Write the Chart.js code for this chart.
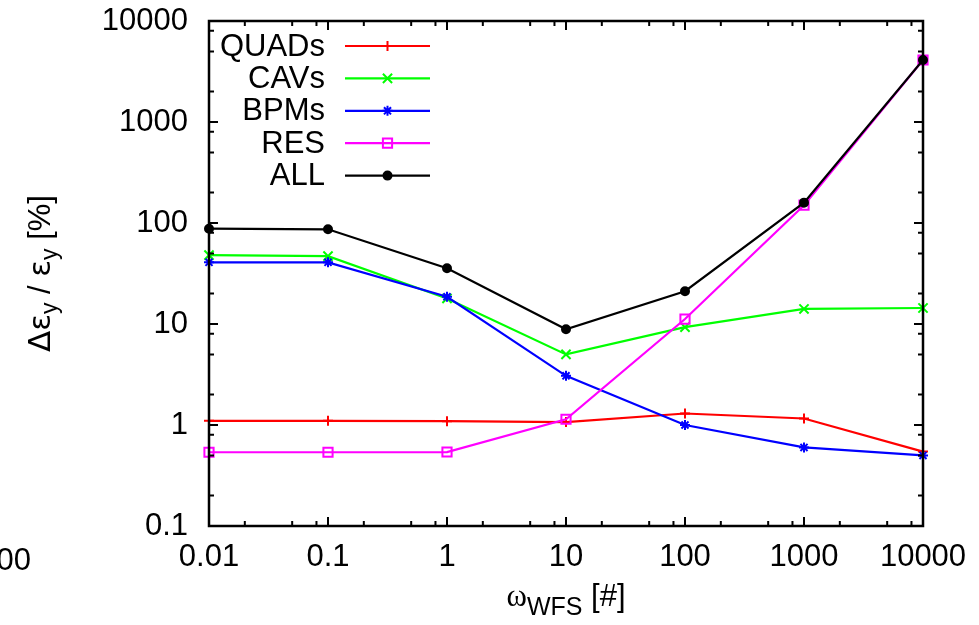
<!DOCTYPE html>
<html><head><meta charset="utf-8">
<script src="https://cdn.jsdelivr.net/npm/chart.js@4"></script>
<style>html,body{margin:0;padding:0;background:#fff}#wrap{width:979px;height:625px;position:relative}</style>
</head><body><div id="wrap"><canvas id="c" width="979" height="625"></canvas></div>
<script>
// ---- data ----
const xValues = [0.01, 0.1, 1, 10, 100, 1000, 10000];
const xTicks  = [0.01, 0.1, 1, 10, 100, 1000, 10000];
const yTicks  = [0.1, 1, 10, 100, 1000, 10000];
const seriesNames = ['QUADs', 'CAVs', 'BPMs', 'RES', 'ALL'];
const quads = [1.10, 1.10, 1.09, 1.07, 1.30, 1.16, 0.545];
const cavs  = [48.1, 47.0, 17.9, 5.0, 9.3, 14.1, 14.4];
const bpms  = [40.8, 40.8, 18.6, 3.07, 1.0, 0.60, 0.50];
const res   = [0.537, 0.537, 0.54, 1.14, 11.2, 150, 4110];
const all   = [87.8, 86.6, 35.6, 8.87, 21.1, 159, 4110];
const leftoverLabel = '00';

const FONT = '"Liberation Sans", Arial, Helvetica, sans-serif';
const FS = 31;

const styles = [
  {color:'#ff0000', pointStyle:'cross',    radius:5,   fill:'#ff0000'},
  {color:'#00ff00', pointStyle:'crossRot', radius:6.5, fill:'#00ff00'},
  {color:'#0000ff', pointStyle:'star',     radius:5,   fill:'#0000ff'},
  {color:'#ff00ff', pointStyle:'rect',     radius:6.5, fill:'rgba(0,0,0,0)'},
  {color:'#000000', pointStyle:'circle',   radius:4,   fill:'#000000'}
];
const seriesValues = [quads, cavs, bpms, res, all];

const datasets = seriesNames.map((name, i) => ({
  label: name,
  data: xValues.map((x, j) => ({x: x, y: seriesValues[i][j]})),
  showLine: true,
  borderColor: styles[i].color,
  backgroundColor: styles[i].fill,
  borderWidth: 2.2,
  pointStyle: styles[i].pointStyle,
  pointRadius: styles[i].radius,
  pointBorderWidth: 2,
  pointBorderColor: styles[i].color,
  pointBackgroundColor: styles[i].fill,
  order: seriesNames.length - i,
  clip: false
}));

const framePlugin = {
  id: 'frame',
  afterDatasetsDraw(chart) {
    const ctx = chart.ctx, a = chart.chartArea;
    const xs = chart.scales.x, ys = chart.scales.y;
    ctx.save();
    ctx.strokeStyle = '#000';
    ctx.lineWidth = 2;
    const minorMult = [2, 5, 8];
    const MAJ = 9, MIN = 5;
    ctx.beginPath();
    xTicks.forEach((v, k) => {
      const px = xs.getPixelForValue(v);
      ctx.moveTo(px, a.bottom); ctx.lineTo(px, a.bottom - MAJ);
      ctx.moveTo(px, a.top); ctx.lineTo(px, a.top + MAJ);
      if (k < xTicks.length - 1) minorMult.forEach(m => {
        const q = xs.getPixelForValue(v * m);
        ctx.moveTo(q, a.bottom); ctx.lineTo(q, a.bottom - MIN);
        ctx.moveTo(q, a.top); ctx.lineTo(q, a.top + MIN);
      });
    });
    yTicks.forEach((v, k) => {
      const py = ys.getPixelForValue(v);
      ctx.moveTo(a.left, py); ctx.lineTo(a.left + MAJ, py);
      ctx.moveTo(a.right, py); ctx.lineTo(a.right - MAJ, py);
      if (k < yTicks.length - 1) minorMult.forEach(m => {
        const q = ys.getPixelForValue(v * m);
        ctx.moveTo(a.left, q); ctx.lineTo(a.left + MIN, q);
        ctx.moveTo(a.right, q); ctx.lineTo(a.right - MIN, q);
      });
    });
    ctx.stroke();
    ctx.lineWidth = 2.5;
    ctx.strokeRect(a.left, a.top, a.right - a.left, a.bottom - a.top);

    // legend (top-left, inside plot)
    ctx.font = FS + 'px ' + FONT;
    ctx.textAlign = 'right';
    ctx.textBaseline = 'middle';
    const lx0 = a.left + 136, lx1 = a.left + 221, tx = a.left + 116;
    chart.data.datasets.forEach((ds, i) => {
      const y = a.top + 25 + i * 32.4;
      ctx.fillStyle = '#000';
      ctx.fillText(ds.label, tx, y + 1);
      ctx.strokeStyle = ds.borderColor;
      ctx.lineWidth = 2.2;
      ctx.beginPath(); ctx.moveTo(lx0, y); ctx.lineTo(lx1, y); ctx.stroke();
      ctx.fillStyle = ds.pointBackgroundColor;
      ctx.strokeStyle = ds.pointBorderColor;
      ctx.lineWidth = 2;
      Chart.helpers.drawPoint(ctx, {pointStyle: ds.pointStyle, radius: ds.pointRadius, rotation: 0, borderWidth: 2}, (lx0 + lx1) / 2, y);
    });

    function drawRich(parts, cx, cy) {
      let w = 0;
      parts.forEach(p => { ctx.font = p.size + 'px ' + (p.font || FONT); p.w = ctx.measureText(p.t).width; w += p.w; });
      let x = cx - w / 2;
      ctx.textAlign = 'left'; ctx.textBaseline = 'alphabetic'; ctx.fillStyle = '#000';
      parts.forEach(p => { ctx.font = p.size + 'px ' + (p.font || FONT); ctx.fillText(p.t, x, cy + (p.dy || 0)); x += p.w; });
    }
    const SUB = 23;
    ctx.save();
    ctx.translate(50, (a.top + a.bottom) / 2);
    ctx.rotate(-Math.PI / 2);
    drawRich([
      {t:'Δε', size:FS, font:'"DejaVu Sans", sans-serif'},
      {t:'y', size:SUB, dy:7},
      {t:' / ', size:FS},
      {t:'ε', size:FS, font:'"DejaVu Sans", sans-serif'},
      {t:'y', size:SUB, dy:7},
      {t:' [%]', size:FS}
    ], 0, 0);
    ctx.restore();
    drawRich([
      {t:'ω', size:FS, font:'"Liberation Serif", serif'},
      {t:'WFS', size:SUB + 2, dy:9},
      {t:' [#]', size:FS}
    ], (a.left + a.right) / 2, 606);

    ctx.font = FS + 'px ' + FONT;
    ctx.textAlign = 'right'; ctx.textBaseline = 'middle';
    ctx.fillText(leftoverLabel, 31, 561);
    ctx.restore();
  }
};

new Chart(document.getElementById('c'), {
  type: 'scatter',
  data: { datasets: datasets },
  options: {
    responsive: false,
    animation: false,
    events: [],
    layout: { padding: { top: 21, right: 56, left: 0, bottom: 0 } },
    plugins: { legend: { display: false }, tooltip: { enabled: false } },
    scales: {
      x: {
        type: 'logarithmic', min: 0.01, max: 10000,
        grid: { display: false, drawTicks: false }, border: { display: false },
        afterBuildTicks: s => { s.ticks = xTicks.map(v => ({value: v})); },
        afterFit: s => { s.height = 99; s.paddingLeft = 0; s.paddingRight = 0; },
        ticks: { color: '#000', font: { family: FONT, size: FS }, padding: 13, maxRotation: 0, autoSkip: false,
                 callback: v => String(v) }
      },
      y: {
        type: 'logarithmic', min: 0.1, max: 10000,
        grid: { display: false, drawTicks: false }, border: { display: false },
        afterBuildTicks: s => { s.ticks = yTicks.map(v => ({value: v})); },
        afterFit: s => { s.width = 209; s.paddingTop = 0; s.paddingBottom = 0; },
        ticks: { color: '#000', font: { family: FONT, size: FS }, padding: 21, autoSkip: false,
                 callback: v => String(v) }
      }
    }
  },
  plugins: [framePlugin]
});
</script>
</body></html>
